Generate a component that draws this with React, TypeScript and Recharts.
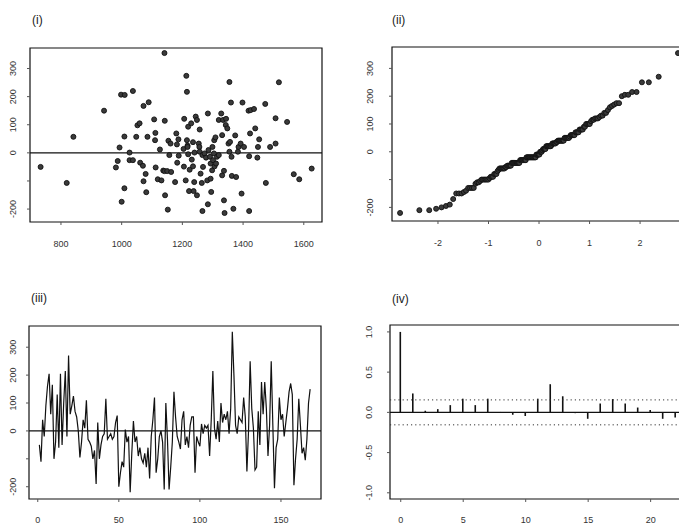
import React from 'react'
import {ScatterChart, Scatter, LineChart, Line, ComposedChart, Bar, XAxis, YAxis, ReferenceLine, ReferenceArea} from 'recharts'

// (i) fitted values and their residuals
const fitted = [733, 819, 841, 942, 993, 987, 981, 1000, 1009, 998, 1010, 1009, 1037, 1026, 1026, 1037, 1048, 1052, 1059, 1061,
  1070, 1072, 1089, 1072, 1079, 1081, 1085, 1107, 1110, 1111, 1112, 1119, 1126, 1131, 1137, 1141, 1142, 1143, 1141, 1150,
  1152, 1154, 1157, 1161, 1163, 1176, 1180, 1182, 1183, 1187, 1188, 1204, 1206, 1205, 1211, 1213, 1215, 1215, 1217, 1217,
  1219, 1219, 1224, 1222, 1229, 1231, 1235, 1235, 1237, 1240, 1244, 1248, 1239, 1248, 1254, 1256, 1257, 1257, 1260, 1264,
  1266, 1266, 1268, 1273, 1278, 1282, 1284, 1284, 1286, 1291, 1293, 1293, 1295, 1298, 1299, 1301, 1304, 1305, 1306, 1309,
  1311, 1314, 1320, 1320, 1328, 1331, 1331, 1334, 1337, 1337, 1339, 1343, 1344, 1348, 1352, 1355, 1355, 1357, 1360, 1362,
  1363, 1368, 1374, 1377, 1383, 1385, 1392, 1395, 1398, 1403, 1418, 1420, 1420, 1423, 1425, 1436, 1440, 1447, 1449, 1453,
  1473, 1475, 1489, 1507, 1507, 1518, 1545, 1567, 1585, 1626]
const fittedResid = [-50, -107, 57, 150, 19, -29, -52, -174, -126, 207, 206, 58, 220, 1, -26, -26, 57, 98, 105, -35,
  -46, 167, 180, -101, -75, -140, 57, 119, 45, 71, -52, -94, 12, -98, -63, 355, 114, -151, -65, -65,
  -202, 43, -8, 33, -68, -104, 69, 30, -35, 48, -10, 14, 121, -49, -98, 274, 217, 45, 26, 21,
  93, -5, -60, -136, 105, -24, 38, -48, -136, 1, 129, 117, -104, -151, 33, 21, 4, 83, -74, -107,
  -207, -8, -50, -2, -17, -98, 140, -183, 10, -14, -38, -92, -139, -62, 21, -26, -2, 45, -48, 55,
  -38, -14, 117, -8, 140, 63, -80, 117, -64, -169, -214, 99, 121, 87, 33, 4, 252, 39, 179, -14,
  -82, -199, 62, -86, 4, 21, 33, -145, 179, 21, 150, -12, -207, 69, 152, 156, 87, -17, 21, 48,
  174, -107, 21, 123, 33, 251, 110, -76, -94, -56]

// (iii) residuals in time order
const residuals = [-50, -110, 40, -20, 90, 160, 205, 60, 165, -100, -40, 130, -60, 205, -50, 100, 215, -20, 270, 60,
  90, 125, 70, 50, 0, -95, -40, 40, 10, 110, -30, -40, -55, -100, -70, -190, 30, -100, -50, -20,
  -10, 115, -30, -20, -10, -30, -20, 30, 55, -200, -150, -110, -130, 5, -40, -20, -220, -80, 35, -40,
  -20, -90, -60, -100, -115, -80, -130, -60, -170, -20, 40, 120, -150, -100, -20, 0, -40, -210, 100, -30,
  -210, -130, -40, 140, 50, -20, -40, -65, 40, 70, -50, -20, -60, 20, 50, 50, -150, -20, -40, -55,
  25, -10, 20, 10, 20, -90, 40, 215, 10, -30, 35, -40, 100, 30, 60, 40, 70, -10, 80, 355,
  200, 20, -10, 50, 40, 30, 120, 50, -145, 0, 250, 80, 10, -140, -130, 70, -50, 175, 60, 175,
  80, -90, 20, 250, 20, -205, -60, -30, 120, 40, 60, -20, 30, 80, 140, 170, 130, -195, -100, -30,
  115, 20, -80, -60, -105, -30, 100, 150]

// (iv) autocorrelations
const acfLags = [0, 1, 2, 3, 4, 5, 6, 7, 8, 9, 10, 11, 12, 13, 14, 15, 16, 17, 18, 19, 20, 21, 22]
const acfValues = [1.0, 0.235, 0.02, 0.04, 0.09, 0.17, 0.09, 0.17, 0.005, -0.03, -0.045, 0.17, 0.35, 0.2, -0.01, -0.08, 0.11, 0.165, 0.11, 0.06, 0.03, -0.08, -0.065]
const acfBound = 0.155

const residTicks = [-200, -100, 0, 100, 200, 300]
const fittedTicks = [800, 1000, 1200, 1400, 1600]
const qqTicks = [-2, -1, 0, 1, 2]
const timeTicks = [0, 50, 100, 150]
const lagTicks = [0, 5, 10, 15, 20]
const acfTicks = [-1, -0.5, 0, 0.5, 1]

// inverse normal cdf (Acklam)
function qnorm(p: number) {
  const a = [-39.69683028665376, 220.9460984245205, -275.9285104469687, 138.357751867269, -30.66479806614716, 2.506628277459239]
  const b = [-54.47609879822406, 161.5858368580409, -155.6989798598866, 66.80131188771972, -13.28068155288572]
  const c = [-0.007784894002430293, -0.3223964580411365, -2.400758277161838, -2.549732539343734, 4.374664141464968, 2.938163982698783]
  const d = [0.007784695709041462, 0.3224671290700398, 2.445134137142996, 3.754408661907416]
  const pl = 0.02425
  if (p < pl) {
    const q = Math.sqrt(-2 * Math.log(p))
    return (((((c[0] * q + c[1]) * q + c[2]) * q + c[3]) * q + c[4]) * q + c[5]) / ((((d[0] * q + d[1]) * q + d[2]) * q + d[3]) * q + 1)
  }
  if (p > 1 - pl) return -qnorm(1 - p)
  const q = p - 0.5
  const r = q * q
  return (((((a[0] * r + a[1]) * r + a[2]) * r + a[3]) * r + a[4]) * r + a[5]) * q / (((((b[0] * r + b[1]) * r + b[2]) * r + b[3]) * r + b[4]) * r + 1)
}

const scatterData = fitted.map((f, i) => ({f, r: fittedResid[i]}))
const sorted = [...residuals].sort((a, b) => a - b)
const qqData = sorted.map((r, i) => ({q: qnorm((i + 0.5) / sorted.length), r}))
const timeData = residuals.map((r, i) => ({t: i + 1, r}))
const acfData = acfLags.map((lag, i) => ({lag, acf: acfValues[i]}))

const FONT = '"Liberation Sans", Arial, sans-serif'
const INK = '#111'

// place a chart so that its plot box lands on L,T,R,B
function place(L: number, T: number, R: number, B: number, yW: number, xH: number) {
  return {
    style: {position: 'absolute' as const, left: L - yW, top: T - 4},
    width: R - L + yW + 4,
    height: B - T + 4 + xH,
    margin: {top: 4, right: 4, left: 0, bottom: 0},
  }
}

const xTick = (gap: number, fmt = (v: number) => String(v)) => (p: any) => (
  <text x={p.x} y={p.y + gap} textAnchor="middle" dominantBaseline="central" fontSize={9} fill="#333" fontFamily={FONT}>
    {fmt(p.payload.value)}
  </text>
)
const yTick = (gap: number, fmt = (v: number) => String(v)) => (p: any) => (
  <text x={p.x - gap} y={p.y} transform={`rotate(-90, ${p.x - gap}, ${p.y})`} textAnchor="middle" dominantBaseline="central" fontSize={9} fill="#333" fontFamily={FONT}>
    {fmt(p.payload.value)}
  </text>
)
const residLabel = (v: number) => (v === -100 ? '' : String(v))

const dot = (p: any) => <circle cx={p.cx} cy={p.cy} r={2.5} fill="#3a3a3a" stroke={INK} strokeWidth={0.9} />

const label = (text: string, left: number, top: number) => (
  <div style={{position: 'absolute', left, top, fontSize: 12, lineHeight: '14px', fontFamily: FONT, color: '#222'}}>{text}</div>
)

export default function App() {
  const p1 = place(30, 48, 322, 222, 30, 30)
  const p2 = place(392, 47, 681, 221, 40, 30)
  const p3 = place(29, 326, 321, 499, 29, 25)
  const p4 = place(390, 325, 681, 499, 40, 25)
  const d1: [number, number] = [698, 1660]
  const r1: [number, number] = [-246, 373]
  const d2: [number, number] = [-2.91, 2.81]
  const r2: [number, number] = [-249, 377]
  const d3: [number, number] = [-5.4, 174.7]
  const r3: [number, number] = [-244, 376]
  const d4: [number, number] = [-0.86, 22.43]
  const r4: [number, number] = [-1.077, 1.086]
  const tickStyle = {stroke: '#555'}

  return (
    <div style={{position: 'absolute', left: 0, top: 0, width: 679, height: 524, overflow: 'hidden', background: '#fff'}}>
      {label('(i)', 32, 13)}
      {label('(ii)', 392, 13)}
      {label('(iii)', 31, 291)}
      {label('(iv)', 392, 292)}

      <div style={p1.style}>
        <ScatterChart width={p1.width} height={p1.height} margin={p1.margin}>
          <XAxis type="number" dataKey="f" domain={d1} ticks={fittedTicks} allowDataOverflow axisLine={false} tickSize={3} tickLine={tickStyle} height={30} tick={xTick(17)} />
          <YAxis type="number" dataKey="r" domain={r1} ticks={residTicks} allowDataOverflow axisLine={false} tickSize={3} tickLine={tickStyle} width={30} tick={yTick(12, residLabel)} />
          <ReferenceArea x1={d1[0]} x2={d1[1]} y1={r1[0]} y2={r1[1]} fill="none" stroke={INK} strokeWidth={1.2} />
          <ReferenceLine y={0} stroke={INK} strokeWidth={1.2} />
          <Scatter data={scatterData} shape={dot} isAnimationActive={false} />
        </ScatterChart>
      </div>

      <div style={p2.style}>
        <ScatterChart width={p2.width} height={p2.height} margin={p2.margin}>
          <XAxis type="number" dataKey="q" domain={d2} ticks={qqTicks} allowDataOverflow axisLine={false} tickSize={3} tickLine={tickStyle} height={30} tick={xTick(17)} />
          <YAxis type="number" dataKey="r" domain={r2} ticks={residTicks} allowDataOverflow axisLine={false} tickSize={3} tickLine={tickStyle} width={40} tick={yTick(17, residLabel)} />
          <ReferenceArea x1={d2[0]} x2={d2[1]} y1={r2[0]} y2={r2[1]} fill="none" stroke={INK} strokeWidth={1.2} />
          <Scatter data={qqData} shape={dot} isAnimationActive={false} />
        </ScatterChart>
      </div>

      <div style={p3.style}>
        <LineChart width={p3.width} height={p3.height} margin={p3.margin} data={timeData}>
          <XAxis type="number" dataKey="t" domain={d3} ticks={timeTicks} allowDataOverflow axisLine={false} tickSize={3} tickLine={tickStyle} height={25} tick={xTick(16)} />
          <YAxis type="number" domain={r3} ticks={residTicks} allowDataOverflow axisLine={false} tickSize={3} tickLine={tickStyle} width={29} tick={yTick(11, residLabel)} />
          <ReferenceArea x1={d3[0]} x2={d3[1]} y1={r3[0]} y2={r3[1]} fill="none" stroke={INK} strokeWidth={1.2} />
          <ReferenceLine y={0} stroke={INK} strokeWidth={1.2} />
          <Line dataKey="r" stroke={INK} strokeWidth={1.2} dot={false} isAnimationActive={false} />
        </LineChart>
      </div>

      <div style={p4.style}>
        <ComposedChart width={p4.width} height={p4.height} margin={p4.margin} data={acfData}>
          <XAxis type="number" dataKey="lag" domain={d4} ticks={lagTicks} allowDataOverflow axisLine={false} tickSize={3} tickLine={tickStyle} height={25} tick={xTick(16)} />
          <YAxis type="number" domain={r4} ticks={acfTicks} allowDataOverflow axisLine={false} tickSize={3} tickLine={tickStyle} width={40} tick={yTick(16, (v) => v.toFixed(1))} />
          <ReferenceArea x1={d4[0]} x2={d4[1]} y1={r4[0]} y2={r4[1]} fill="none" stroke={INK} strokeWidth={1.2} />
          <ReferenceLine y={0} stroke={INK} strokeWidth={1.2} />
          <ReferenceLine y={acfBound} stroke="#333" strokeDasharray="1.2 3" />
          <ReferenceLine y={-acfBound} stroke="#333" strokeDasharray="1.2 3" />
          <Bar dataKey="acf" fill={INK} barSize={1.6} isAnimationActive={false} />
        </ComposedChart>
      </div>
    </div>
  )
}
